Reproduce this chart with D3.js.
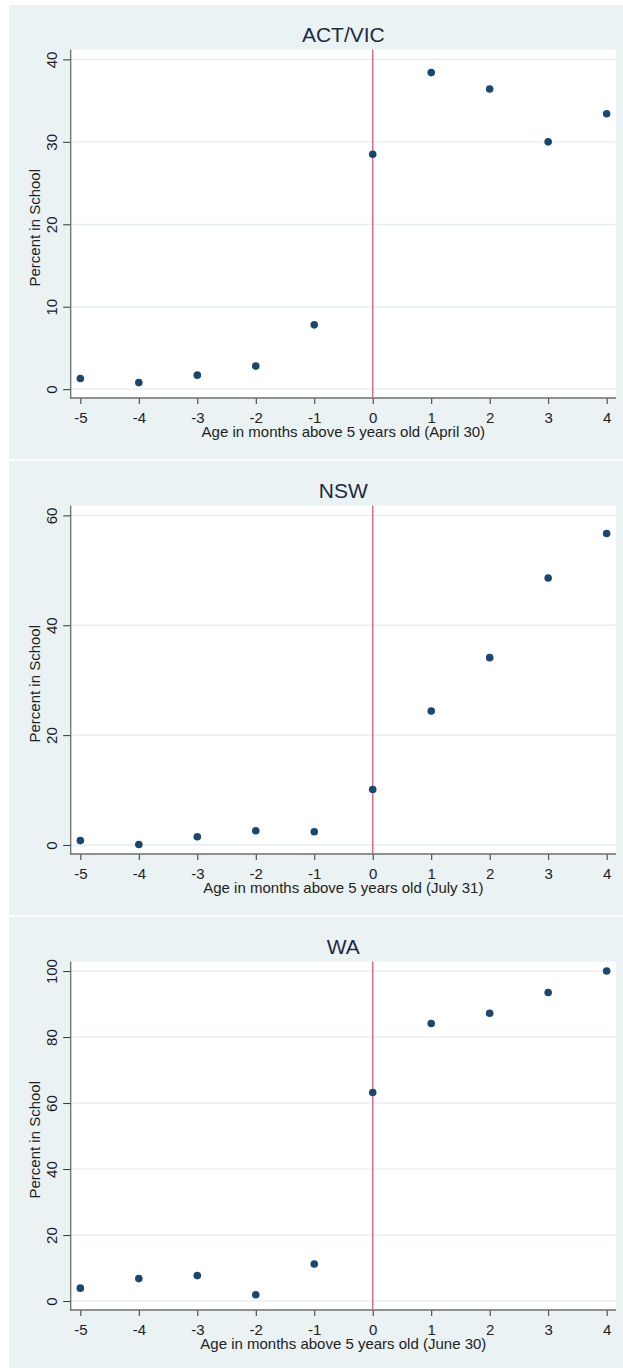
<!DOCTYPE html>
<html>
<head>
<meta charset="utf-8">
<script src="https://cdn.jsdelivr.net/npm/d3@7/dist/d3.min.js"></script>
<style>
  body { margin: 0; background: #fff; }
  text { font-family: 'Liberation Sans', Arial, sans-serif; }
</style>
</head>
<body>
<svg id="chart" width="623" height="1368"></svg>
<script>
const months = [-5, -4, -3, -2, -1, 0, 1, 2, 3, 4];

const actVic = [1.3, 0.8, 1.7, 2.8, 7.8, 28.5, 38.4, 36.4, 30.0, 33.4];
const nsw = [0.8, 0.1, 1.5, 2.6, 2.4, 10.1, 24.4, 34.1, 48.6, 56.7];
const wa = [3.9, 6.8, 7.7, 1.9, 11.2, 63.2, 84.1, 87.2, 93.5, 100];

const panelTitles = ['ACT/VIC', 'NSW', 'WA'];
const cutoffDates = ['April 30', 'July 31', 'June 30'];
const yTicks = [[0, 10, 20, 30, 40], [0, 20, 40, 60], [0, 20, 40, 60, 80, 100]];
const yDomains = [[-1.07, 41.2], [-1.64, 61.8], [-2.72, 102.9]];
const xDomain = [-5.165, 4.16];

const svg = d3.select('#chart');

function drawPanel(svgEle, i, values) {
  const top = 5 + i * 456;
  const g = svgEle.append('g').attr('class', 'panel_' + i);

  // 背景
  g.append('rect')
    .attr('x', 9).attr('y', top)
    .attr('width', 614).attr('height', 454)
    .attr('fill', '#eaf2f3');

  const plot = { left: 70.7, right: 616, top: top + 44.5, bottom: top + 393 };

  g.append('rect')
    .attr('x', plot.left).attr('y', plot.top)
    .attr('width', plot.right - plot.left).attr('height', plot.bottom - plot.top)
    .attr('fill', '#fff');

  const x = d3.scaleLinear().domain(xDomain).range([plot.left, plot.right]);
  const y = d3.scaleLinear().domain(yDomains[i]).range([plot.bottom, plot.top]);

  // grid
  g.append('g')
    .selectAll('line')
    .data(yTicks[i])
    .join('line')
    .attr('x1', plot.left).attr('x2', plot.right)
    .attr('y1', d => y(d)).attr('y2', d => y(d))
    .attr('stroke', '#e4eef0')
    .attr('stroke-width', 1.3);

  // y axis
  const yAxis = g.append('g')
    .attr('transform', `translate(${plot.left},0)`)
    .call(d3.axisLeft(y).tickValues(yTicks[i]).tickSize(7.5).tickPadding(0).tickSizeOuter(0));
  yAxis.select('.domain').remove();
  yAxis.append('line')
    .attr('x1', 0).attr('x2', 0)
    .attr('y1', plot.top).attr('y2', plot.bottom + 0.6)
    .attr('stroke', '#6e6e6e').attr('stroke-width', 1.3);
  yAxis.selectAll('.tick line').attr('stroke', '#333').attr('stroke-width', 1);
  yAxis.selectAll('.tick text')
    .attr('x', null).attr('dy', null)
    .attr('transform', 'translate(-14,0) rotate(-90)')
    .attr('text-anchor', 'middle')
    .attr('fill', '#222')
    .attr('font-size', 15);

  // x axis
  const xAxis = g.append('g')
    .attr('transform', `translate(0,${plot.bottom})`)
    .call(d3.axisBottom(x).tickValues(months).tickSize(6).tickPadding(0).tickSizeOuter(0));
  xAxis.select('.domain').remove();
  xAxis.append('line')
    .attr('x1', plot.left - 0.6).attr('x2', plot.right)
    .attr('y1', 0).attr('y2', 0)
    .attr('stroke', '#6e6e6e').attr('stroke-width', 1.3);
  xAxis.selectAll('.tick line').attr('stroke', '#333').attr('stroke-width', 1);
  xAxis.selectAll('.tick text')
    .attr('y', 24.5).attr('dy', null)
    .attr('fill', '#222')
    .attr('font-size', 15)
    .text(d => d);

  // cutoff
  g.append('line')
    .attr('x1', x(0)).attr('x2', x(0))
    .attr('y1', plot.top).attr('y2', plot.bottom)
    .attr('stroke', '#e0587a')
    .attr('stroke-width', 1.3);

  // points
  g.append('g')
    .selectAll('circle')
    .data(values)
    .join('circle')
    .attr('cx', (d, j) => x(months[j]))
    .attr('cy', d => y(d))
    .attr('r', 3.8)
    .attr('fill', '#1a476f');

  const cx = (plot.left + plot.right) / 2;
  g.append('text')
    .attr('x', cx).attr('y', top + 36.7)
    .attr('text-anchor', 'middle')
    .attr('font-size', 21)
    .attr('fill', '#1e2a40')
    .text(panelTitles[i]);

  g.append('text')
    .attr('x', cx).attr('y', plot.bottom + 39.4)
    .attr('text-anchor', 'middle')
    .attr('font-size', 15)
    .attr('fill', '#222')
    .text(`Age in months above 5 years old (${cutoffDates[i]})`);

  g.append('text')
    .attr('transform', `translate(40,${(plot.top + plot.bottom) / 2 + 4}) rotate(-90)`)
    .attr('text-anchor', 'middle')
    .attr('font-size', 15)
    .attr('fill', '#222')
    .text('Percent in School');
}

[actVic, nsw, wa].forEach((values, i) => drawPanel(svg, i, values));
</script>
</body>
</html>
